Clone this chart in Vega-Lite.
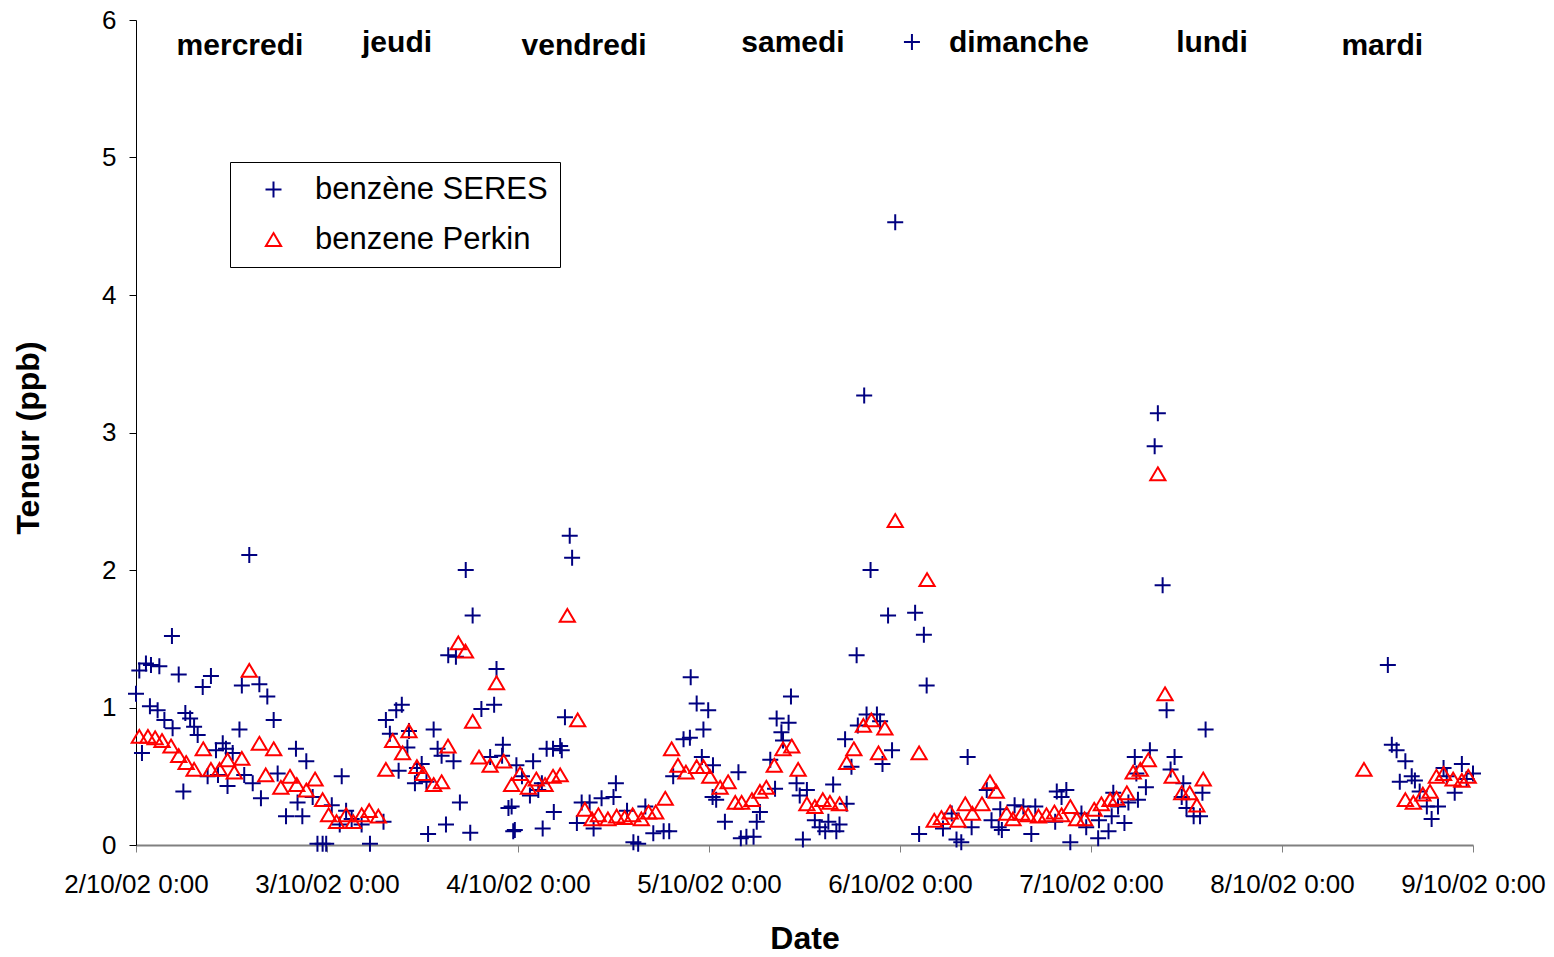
{
  "$schema": "https://vega.github.io/schema/vega-lite/v6.json",
  "width": 1337,
  "height": 825,
  "autosize": {"type": "none"},
  "padding": {"left": 136, "top": 20, "right": 81, "bottom": 112},
  "background": "white",
  "config": {"view": {"stroke": null}, "font": "Liberation Sans"},
  "layer": [
    {
      "data": {"values": [
        {"t":"2002-10-02T00:00:00Z","serie":"benzène SERES","v":1.10},
        {"t":"2002-10-02T00:25:00Z","serie":"benzène SERES","v":1.27},
        {"t":"2002-10-02T00:45:00Z","serie":"benzène SERES","v":0.67},
        {"t":"2002-10-02T01:15:00Z","serie":"benzène SERES","v":1.32},
        {"t":"2002-10-02T01:45:00Z","serie":"benzène SERES","v":1.01},
        {"t":"2002-10-02T01:53:00Z","serie":"benzène SERES","v":1.31},
        {"t":"2002-10-02T02:43:00Z","serie":"benzène SERES","v":0.98},
        {"t":"2002-10-02T02:56:00Z","serie":"benzène SERES","v":1.30},
        {"t":"2002-10-02T03:34:00Z","serie":"benzène SERES","v":0.91},
        {"t":"2002-10-02T04:31:00Z","serie":"benzène SERES","v":1.52},
        {"t":"2002-10-02T04:36:00Z","serie":"benzène SERES","v":0.85},
        {"t":"2002-10-02T05:22:00Z","serie":"benzène SERES","v":1.24},
        {"t":"2002-10-02T05:57:00Z","serie":"benzène SERES","v":0.39},
        {"t":"2002-10-02T06:12:00Z","serie":"benzène SERES","v":0.96},
        {"t":"2002-10-02T06:48:00Z","serie":"benzène SERES","v":0.92},
        {"t":"2002-10-02T07:18:00Z","serie":"benzène SERES","v":0.86},
        {"t":"2002-10-02T07:45:00Z","serie":"benzène SERES","v":0.80},
        {"t":"2002-10-02T08:23:00Z","serie":"benzène SERES","v":1.15},
        {"t":"2002-10-02T09:00:00Z","serie":"benzène SERES","v":0.50},
        {"t":"2002-10-02T09:25:00Z","serie":"benzène SERES","v":1.23},
        {"t":"2002-10-02T10:03:00Z","serie":"benzène SERES","v":0.69},
        {"t":"2002-10-02T10:18:00Z","serie":"benzène SERES","v":0.51},
        {"t":"2002-10-02T10:54:00Z","serie":"benzène SERES","v":0.74},
        {"t":"2002-10-02T11:18:00Z","serie":"benzène SERES","v":0.70},
        {"t":"2002-10-02T11:30:00Z","serie":"benzène SERES","v":0.43},
        {"t":"2002-10-02T12:09:00Z","serie":"benzène SERES","v":0.67},
        {"t":"2002-10-02T13:00:00Z","serie":"benzène SERES","v":0.84},
        {"t":"2002-10-02T13:18:00Z","serie":"benzène SERES","v":1.16},
        {"t":"2002-10-02T13:36:00Z","serie":"benzène SERES","v":0.51},
        {"t":"2002-10-02T14:14:00Z","serie":"benzène SERES","v":2.11},
        {"t":"2002-10-02T14:40:00Z","serie":"benzène SERES","v":0.45},
        {"t":"2002-10-02T15:30:00Z","serie":"benzène SERES","v":1.17},
        {"t":"2002-10-02T15:42:00Z","serie":"benzène SERES","v":0.34},
        {"t":"2002-10-02T16:30:00Z","serie":"benzène SERES","v":1.08},
        {"t":"2002-10-02T17:18:00Z","serie":"benzène SERES","v":0.91},
        {"t":"2002-10-02T17:48:00Z","serie":"benzène SERES","v":0.52},
        {"t":"2002-10-02T18:51:00Z","serie":"benzène SERES","v":0.21},
        {"t":"2002-10-02T20:06:00Z","serie":"benzène SERES","v":0.70},
        {"t":"2002-10-02T20:18:00Z","serie":"benzène SERES","v":0.31},
        {"t":"2002-10-02T20:54:00Z","serie":"benzène SERES","v":0.21},
        {"t":"2002-10-02T21:24:00Z","serie":"benzène SERES","v":0.61},
        {"t":"2002-10-02T22:12:00Z","serie":"benzène SERES","v":0.35},
        {"t":"2002-10-02T22:48:00Z","serie":"benzène SERES","v":0.01},
        {"t":"2002-10-02T23:27:00Z","serie":"benzène SERES","v":0.01},
        {"t":"2002-10-02T23:54:00Z","serie":"benzène SERES","v":0.01},
        {"t":"2002-10-03T00:36:00Z","serie":"benzène SERES","v":0.29},
        {"t":"2002-10-03T01:36:00Z","serie":"benzène SERES","v":0.15},
        {"t":"2002-10-03T01:51:00Z","serie":"benzène SERES","v":0.50},
        {"t":"2002-10-03T02:24:00Z","serie":"benzène SERES","v":0.25},
        {"t":"2002-10-03T03:06:00Z","serie":"benzène SERES","v":0.19},
        {"t":"2002-10-03T04:21:00Z","serie":"benzène SERES","v":0.15},
        {"t":"2002-10-03T05:24:00Z","serie":"benzène SERES","v":0.01},
        {"t":"2002-10-03T07:06:00Z","serie":"benzène SERES","v":0.17},
        {"t":"2002-10-03T07:24:00Z","serie":"benzène SERES","v":0.91},
        {"t":"2002-10-03T07:54:00Z","serie":"benzène SERES","v":0.81},
        {"t":"2002-10-03T08:42:00Z","serie":"benzène SERES","v":0.98},
        {"t":"2002-10-03T09:00:00Z","serie":"benzène SERES","v":0.54},
        {"t":"2002-10-03T09:24:00Z","serie":"benzène SERES","v":1.02},
        {"t":"2002-10-03T10:06:00Z","serie":"benzène SERES","v":0.71},
        {"t":"2002-10-03T10:18:00Z","serie":"benzène SERES","v":0.83},
        {"t":"2002-10-03T11:03:00Z","serie":"benzène SERES","v":0.45},
        {"t":"2002-10-03T11:18:00Z","serie":"benzène SERES","v":0.56},
        {"t":"2002-10-03T11:54:00Z","serie":"benzène SERES","v":0.59},
        {"t":"2002-10-03T12:30:00Z","serie":"benzène SERES","v":0.46},
        {"t":"2002-10-03T12:42:00Z","serie":"benzène SERES","v":0.08},
        {"t":"2002-10-03T13:24:00Z","serie":"benzène SERES","v":0.84},
        {"t":"2002-10-03T13:54:00Z","serie":"benzène SERES","v":0.70},
        {"t":"2002-10-03T14:24:00Z","serie":"benzène SERES","v":0.65},
        {"t":"2002-10-03T14:57:00Z","serie":"benzène SERES","v":0.15},
        {"t":"2002-10-03T15:14:00Z","serie":"benzène SERES","v":1.38},
        {"t":"2002-10-03T15:54:00Z","serie":"benzène SERES","v":0.61},
        {"t":"2002-10-03T16:12:00Z","serie":"benzène SERES","v":1.37},
        {"t":"2002-10-03T16:42:00Z","serie":"benzène SERES","v":0.31},
        {"t":"2002-10-03T17:26:00Z","serie":"benzène SERES","v":2.00},
        {"t":"2002-10-03T18:00:00Z","serie":"benzène SERES","v":0.09},
        {"t":"2002-10-03T18:18:00Z","serie":"benzène SERES","v":1.67},
        {"t":"2002-10-03T19:24:00Z","serie":"benzène SERES","v":0.99},
        {"t":"2002-10-03T20:30:00Z","serie":"benzène SERES","v":0.64},
        {"t":"2002-10-03T21:00:00Z","serie":"benzène SERES","v":1.02},
        {"t":"2002-10-03T21:18:00Z","serie":"benzène SERES","v":1.28},
        {"t":"2002-10-03T22:00:00Z","serie":"benzène SERES","v":0.65},
        {"t":"2002-10-03T22:06:00Z","serie":"benzène SERES","v":0.73},
        {"t":"2002-10-03T22:48:00Z","serie":"benzène SERES","v":0.27},
        {"t":"2002-10-03T23:12:00Z","serie":"benzène SERES","v":0.28},
        {"t":"2002-10-03T23:24:00Z","serie":"benzène SERES","v":0.10},
        {"t":"2002-10-03T23:36:00Z","serie":"benzène SERES","v":0.11},
        {"t":"2002-10-03T23:48:00Z","serie":"benzène SERES","v":0.58},
        {"t":"2002-10-04T00:30:00Z","serie":"benzène SERES","v":0.50},
        {"t":"2002-10-04T01:30:00Z","serie":"benzène SERES","v":0.36},
        {"t":"2002-10-04T01:54:00Z","serie":"benzène SERES","v":0.61},
        {"t":"2002-10-04T02:33:00Z","serie":"benzène SERES","v":0.40},
        {"t":"2002-10-04T03:00:00Z","serie":"benzène SERES","v":0.45},
        {"t":"2002-10-04T03:06:00Z","serie":"benzène SERES","v":0.12},
        {"t":"2002-10-04T03:36:00Z","serie":"benzène SERES","v":0.70},
        {"t":"2002-10-04T04:24:00Z","serie":"benzène SERES","v":0.70},
        {"t":"2002-10-04T04:30:00Z","serie":"benzène SERES","v":0.24},
        {"t":"2002-10-04T05:18:00Z","serie":"benzène SERES","v":0.72},
        {"t":"2002-10-04T05:30:00Z","serie":"benzène SERES","v":0.69},
        {"t":"2002-10-04T05:54:00Z","serie":"benzène SERES","v":0.93},
        {"t":"2002-10-04T06:30:00Z","serie":"benzène SERES","v":2.25},
        {"t":"2002-10-04T06:48:00Z","serie":"benzène SERES","v":2.09},
        {"t":"2002-10-04T07:24:00Z","serie":"benzène SERES","v":0.16},
        {"t":"2002-10-04T08:00:00Z","serie":"benzène SERES","v":0.31},
        {"t":"2002-10-04T09:00:00Z","serie":"benzène SERES","v":0.31},
        {"t":"2002-10-04T09:30:00Z","serie":"benzène SERES","v":0.12},
        {"t":"2002-10-04T10:30:00Z","serie":"benzène SERES","v":0.34},
        {"t":"2002-10-04T12:00:00Z","serie":"benzène SERES","v":0.35},
        {"t":"2002-10-04T12:18:00Z","serie":"benzène SERES","v":0.45},
        {"t":"2002-10-04T13:42:00Z","serie":"benzène SERES","v":0.25},
        {"t":"2002-10-04T14:30:00Z","serie":"benzène SERES","v":0.02},
        {"t":"2002-10-04T15:06:00Z","serie":"benzène SERES","v":0.01},
        {"t":"2002-10-04T16:00:00Z","serie":"benzène SERES","v":0.28},
        {"t":"2002-10-04T17:00:00Z","serie":"benzène SERES","v":0.085},
        {"t":"2002-10-04T18:18:00Z","serie":"benzène SERES","v":0.10},
        {"t":"2002-10-04T19:00:00Z","serie":"benzène SERES","v":0.10},
        {"t":"2002-10-04T19:30:00Z","serie":"benzène SERES","v":0.50},
        {"t":"2002-10-04T20:48:00Z","serie":"benzène SERES","v":0.77},
        {"t":"2002-10-04T21:36:00Z","serie":"benzène SERES","v":0.78},
        {"t":"2002-10-04T21:42:00Z","serie":"benzène SERES","v":1.22},
        {"t":"2002-10-04T22:27:00Z","serie":"benzène SERES","v":1.03},
        {"t":"2002-10-04T23:06:00Z","serie":"benzène SERES","v":0.64},
        {"t":"2002-10-04T23:18:00Z","serie":"benzène SERES","v":0.84},
        {"t":"2002-10-04T23:54:00Z","serie":"benzène SERES","v":0.98},
        {"t":"2002-10-05T00:27:00Z","serie":"benzène SERES","v":0.35},
        {"t":"2002-10-05T00:30:00Z","serie":"benzène SERES","v":0.58},
        {"t":"2002-10-05T00:54:00Z","serie":"benzène SERES","v":0.33},
        {"t":"2002-10-05T02:00:00Z","serie":"benzène SERES","v":0.17},
        {"t":"2002-10-05T03:42:00Z","serie":"benzène SERES","v":0.53},
        {"t":"2002-10-05T04:00:00Z","serie":"benzène SERES","v":0.05},
        {"t":"2002-10-05T04:42:00Z","serie":"benzène SERES","v":0.06},
        {"t":"2002-10-05T05:36:00Z","serie":"benzène SERES","v":0.06},
        {"t":"2002-10-05T06:00:00Z","serie":"benzène SERES","v":0.17},
        {"t":"2002-10-05T06:24:00Z","serie":"benzène SERES","v":0.24},
        {"t":"2002-10-05T07:42:00Z","serie":"benzène SERES","v":0.62},
        {"t":"2002-10-05T08:18:00Z","serie":"benzène SERES","v":0.41},
        {"t":"2002-10-05T08:30:00Z","serie":"benzène SERES","v":0.92},
        {"t":"2002-10-05T09:06:00Z","serie":"benzène SERES","v":0.82},
        {"t":"2002-10-05T09:18:00Z","serie":"benzène SERES","v":0.76},
        {"t":"2002-10-05T10:00:00Z","serie":"benzène SERES","v":0.89},
        {"t":"2002-10-05T10:18:00Z","serie":"benzène SERES","v":1.08},
        {"t":"2002-10-05T11:00:00Z","serie":"benzène SERES","v":0.45},
        {"t":"2002-10-05T11:24:00Z","serie":"benzène SERES","v":0.36},
        {"t":"2002-10-05T11:48:00Z","serie":"benzène SERES","v":0.04},
        {"t":"2002-10-05T12:18:00Z","serie":"benzène SERES","v":0.40},
        {"t":"2002-10-05T13:18:00Z","serie":"benzène SERES","v":0.18},
        {"t":"2002-10-05T13:54:00Z","serie":"benzène SERES","v":0.13},
        {"t":"2002-10-05T14:36:00Z","serie":"benzène SERES","v":0.10},
        {"t":"2002-10-05T15:00:00Z","serie":"benzène SERES","v":0.17},
        {"t":"2002-10-05T15:36:00Z","serie":"benzène SERES","v":0.44},
        {"t":"2002-10-05T16:00:00Z","serie":"benzène SERES","v":0.10},
        {"t":"2002-10-05T16:24:00Z","serie":"benzène SERES","v":0.15},
        {"t":"2002-10-05T17:06:00Z","serie":"benzène SERES","v":0.77},
        {"t":"2002-10-05T17:18:00Z","serie":"benzène SERES","v":0.30},
        {"t":"2002-10-05T17:54:00Z","serie":"benzène SERES","v":0.57},
        {"t":"2002-10-05T18:33:00Z","serie":"benzène SERES","v":1.38},
        {"t":"2002-10-05T18:42:00Z","serie":"benzène SERES","v":0.87},
        {"t":"2002-10-05T19:30:00Z","serie":"benzène SERES","v":3.27},
        {"t":"2002-10-05T19:48:00Z","serie":"benzène SERES","v":0.95},
        {"t":"2002-10-05T20:18:00Z","serie":"benzène SERES","v":2.00},
        {"t":"2002-10-05T21:06:00Z","serie":"benzène SERES","v":0.95},
        {"t":"2002-10-05T21:30:00Z","serie":"benzène SERES","v":0.90},
        {"t":"2002-10-05T21:48:00Z","serie":"benzène SERES","v":0.59},
        {"t":"2002-10-05T22:30:00Z","serie":"benzène SERES","v":1.67},
        {"t":"2002-10-05T23:00:00Z","serie":"benzène SERES","v":0.69},
        {"t":"2002-10-05T23:24:00Z","serie":"benzène SERES","v":4.53},
        {"t":"2002-10-06T01:30:00Z","serie":"benzène SERES","v":5.84},
        {"t":"2002-10-06T01:54:00Z","serie":"benzène SERES","v":1.69},
        {"t":"2002-10-06T02:24:00Z","serie":"benzène SERES","v":0.08},
        {"t":"2002-10-06T03:00:00Z","serie":"benzène SERES","v":1.53},
        {"t":"2002-10-06T03:21:00Z","serie":"benzène SERES","v":1.16},
        {"t":"2002-10-06T05:24:00Z","serie":"benzène SERES","v":0.12},
        {"t":"2002-10-06T06:30:00Z","serie":"benzène SERES","v":0.23},
        {"t":"2002-10-06T07:06:00Z","serie":"benzène SERES","v":0.04},
        {"t":"2002-10-06T07:42:00Z","serie":"benzène SERES","v":0.02},
        {"t":"2002-10-06T08:30:00Z","serie":"benzène SERES","v":0.64},
        {"t":"2002-10-06T09:00:00Z","serie":"benzène SERES","v":0.13},
        {"t":"2002-10-06T10:54:00Z","serie":"benzène SERES","v":0.40},
        {"t":"2002-10-06T11:30:00Z","serie":"benzène SERES","v":0.18},
        {"t":"2002-10-06T12:24:00Z","serie":"benzène SERES","v":0.13},
        {"t":"2002-10-06T12:36:00Z","serie":"benzène SERES","v":0.26},
        {"t":"2002-10-06T12:48:00Z","serie":"benzène SERES","v":0.11},
        {"t":"2002-10-06T14:24:00Z","serie":"benzène SERES","v":0.29},
        {"t":"2002-10-06T15:30:00Z","serie":"benzène SERES","v":0.28},
        {"t":"2002-10-06T16:30:00Z","serie":"benzène SERES","v":0.08},
        {"t":"2002-10-06T17:00:00Z","serie":"benzène SERES","v":0.28},
        {"t":"2002-10-06T19:30:00Z","serie":"benzène SERES","v":0.17},
        {"t":"2002-10-06T19:42:00Z","serie":"benzène SERES","v":0.39},
        {"t":"2002-10-06T20:18:00Z","serie":"benzène SERES","v":0.35},
        {"t":"2002-10-06T20:54:00Z","serie":"benzène SERES","v":0.40},
        {"t":"2002-10-06T21:24:00Z","serie":"benzène SERES","v":0.02},
        {"t":"2002-10-06T22:48:00Z","serie":"benzène SERES","v":0.23},
        {"t":"2002-10-06T23:24:00Z","serie":"benzène SERES","v":0.13},
        {"t":"2002-10-07T00:54:00Z","serie":"benzène SERES","v":0.05},
        {"t":"2002-10-07T01:00:00Z","serie":"benzène SERES","v":0.18},
        {"t":"2002-10-07T02:12:00Z","serie":"benzène SERES","v":0.10},
        {"t":"2002-10-07T02:36:00Z","serie":"benzène SERES","v":0.21},
        {"t":"2002-10-07T02:48:00Z","serie":"benzène SERES","v":0.38},
        {"t":"2002-10-07T03:24:00Z","serie":"benzène SERES","v":0.28},
        {"t":"2002-10-07T04:12:00Z","serie":"benzène SERES","v":0.16},
        {"t":"2002-10-07T04:42:00Z","serie":"benzène SERES","v":0.31},
        {"t":"2002-10-07T05:30:00Z","serie":"benzène SERES","v":0.64},
        {"t":"2002-10-07T05:42:00Z","serie":"benzène SERES","v":0.52},
        {"t":"2002-10-07T05:54:00Z","serie":"benzène SERES","v":0.33},
        {"t":"2002-10-07T06:54:00Z","serie":"benzène SERES","v":0.42},
        {"t":"2002-10-07T07:24:00Z","serie":"benzène SERES","v":0.69},
        {"t":"2002-10-07T08:00:00Z","serie":"benzène SERES","v":2.90},
        {"t":"2002-10-07T08:24:00Z","serie":"benzène SERES","v":3.14},
        {"t":"2002-10-07T09:00:00Z","serie":"benzène SERES","v":1.89},
        {"t":"2002-10-07T09:30:00Z","serie":"benzène SERES","v":0.98},
        {"t":"2002-10-07T10:00:00Z","serie":"benzène SERES","v":0.55},
        {"t":"2002-10-07T10:30:00Z","serie":"benzène SERES","v":0.64},
        {"t":"2002-10-07T11:24:00Z","serie":"benzène SERES","v":0.35},
        {"t":"2002-10-07T11:36:00Z","serie":"benzène SERES","v":0.45},
        {"t":"2002-10-07T12:00:00Z","serie":"benzène SERES","v":0.27},
        {"t":"2002-10-07T12:54:00Z","serie":"benzène SERES","v":0.21},
        {"t":"2002-10-07T13:42:00Z","serie":"benzène SERES","v":0.21},
        {"t":"2002-10-07T14:00:00Z","serie":"benzène SERES","v":0.38},
        {"t":"2002-10-07T14:24:00Z","serie":"benzène SERES","v":0.84},
        {"t":"2002-10-08T13:18:00Z","serie":"benzène SERES","v":1.31},
        {"t":"2002-10-08T13:48:00Z","serie":"benzène SERES","v":0.73},
        {"t":"2002-10-08T14:24:00Z","serie":"benzène SERES","v":0.69},
        {"t":"2002-10-08T14:48:00Z","serie":"benzène SERES","v":0.46},
        {"t":"2002-10-08T15:30:00Z","serie":"benzène SERES","v":0.61},
        {"t":"2002-10-08T16:18:00Z","serie":"benzène SERES","v":0.50},
        {"t":"2002-10-08T16:42:00Z","serie":"benzène SERES","v":0.47},
        {"t":"2002-10-08T17:18:00Z","serie":"benzène SERES","v":0.39},
        {"t":"2002-10-08T18:12:00Z","serie":"benzène SERES","v":0.28},
        {"t":"2002-10-08T18:48:00Z","serie":"benzène SERES","v":0.19},
        {"t":"2002-10-08T19:36:00Z","serie":"benzène SERES","v":0.28},
        {"t":"2002-10-08T20:18:00Z","serie":"benzène SERES","v":0.56},
        {"t":"2002-10-08T20:42:00Z","serie":"benzène SERES","v":0.50},
        {"t":"2002-10-08T21:42:00Z","serie":"benzène SERES","v":0.38},
        {"t":"2002-10-08T22:36:00Z","serie":"benzène SERES","v":0.59},
        {"t":"2002-10-08T23:12:00Z","serie":"benzène SERES","v":0.48},
        {"t":"2002-10-09T00:00:00Z","serie":"benzène SERES","v":0.52},

        {"t":"2002-10-02T00:25:00Z","serie":"benzene Perkin","v":0.79},
        {"t":"2002-10-02T01:30:00Z","serie":"benzene Perkin","v":0.79},
        {"t":"2002-10-02T02:24:00Z","serie":"benzene Perkin","v":0.78},
        {"t":"2002-10-02T03:16:00Z","serie":"benzene Perkin","v":0.76},
        {"t":"2002-10-02T04:24:00Z","serie":"benzene Perkin","v":0.72},
        {"t":"2002-10-02T05:22:00Z","serie":"benzene Perkin","v":0.65},
        {"t":"2002-10-02T06:18:00Z","serie":"benzene Perkin","v":0.60},
        {"t":"2002-10-02T07:18:00Z","serie":"benzene Perkin","v":0.55},
        {"t":"2002-10-02T08:27:00Z","serie":"benzene Perkin","v":0.70},
        {"t":"2002-10-02T09:25:00Z","serie":"benzene Perkin","v":0.55},
        {"t":"2002-10-02T10:30:00Z","serie":"benzene Perkin","v":0.55},
        {"t":"2002-10-02T11:30:00Z","serie":"benzene Perkin","v":0.62},
        {"t":"2002-10-02T12:21:00Z","serie":"benzene Perkin","v":0.53},
        {"t":"2002-10-02T13:18:00Z","serie":"benzene Perkin","v":0.63},
        {"t":"2002-10-02T14:14:00Z","serie":"benzene Perkin","v":1.27},
        {"t":"2002-10-02T15:30:00Z","serie":"benzene Perkin","v":0.74},
        {"t":"2002-10-02T16:18:00Z","serie":"benzene Perkin","v":0.51},
        {"t":"2002-10-02T17:18:00Z","serie":"benzene Perkin","v":0.70},
        {"t":"2002-10-02T18:12:00Z","serie":"benzene Perkin","v":0.42},
        {"t":"2002-10-02T19:21:00Z","serie":"benzene Perkin","v":0.50},
        {"t":"2002-10-02T20:12:00Z","serie":"benzene Perkin","v":0.44},
        {"t":"2002-10-02T21:24:00Z","serie":"benzene Perkin","v":0.40},
        {"t":"2002-10-02T22:30:00Z","serie":"benzene Perkin","v":0.48},
        {"t":"2002-10-02T23:27:00Z","serie":"benzene Perkin","v":0.33},
        {"t":"2002-10-03T00:12:00Z","serie":"benzene Perkin","v":0.22},
        {"t":"2002-10-03T01:12:00Z","serie":"benzene Perkin","v":0.17},
        {"t":"2002-10-03T02:24:00Z","serie":"benzene Perkin","v":0.22},
        {"t":"2002-10-03T03:18:00Z","serie":"benzene Perkin","v":0.17},
        {"t":"2002-10-03T04:21:00Z","serie":"benzene Perkin","v":0.22},
        {"t":"2002-10-03T05:18:00Z","serie":"benzene Perkin","v":0.25},
        {"t":"2002-10-03T06:27:00Z","serie":"benzene Perkin","v":0.21},
        {"t":"2002-10-03T07:24:00Z","serie":"benzene Perkin","v":0.55},
        {"t":"2002-10-03T08:15:00Z","serie":"benzene Perkin","v":0.76},
        {"t":"2002-10-03T09:30:00Z","serie":"benzene Perkin","v":0.67},
        {"t":"2002-10-03T10:18:00Z","serie":"benzene Perkin","v":0.83},
        {"t":"2002-10-03T11:18:00Z","serie":"benzene Perkin","v":0.57},
        {"t":"2002-10-03T12:06:00Z","serie":"benzene Perkin","v":0.52},
        {"t":"2002-10-03T13:24:00Z","serie":"benzene Perkin","v":0.44},
        {"t":"2002-10-03T14:24:00Z","serie":"benzene Perkin","v":0.46},
        {"t":"2002-10-03T15:12:00Z","serie":"benzene Perkin","v":0.72},
        {"t":"2002-10-03T16:30:00Z","serie":"benzene Perkin","v":1.47},
        {"t":"2002-10-03T17:24:00Z","serie":"benzene Perkin","v":1.41},
        {"t":"2002-10-03T18:18:00Z","serie":"benzene Perkin","v":0.90},
        {"t":"2002-10-03T19:06:00Z","serie":"benzene Perkin","v":0.64},
        {"t":"2002-10-03T20:30:00Z","serie":"benzene Perkin","v":0.58},
        {"t":"2002-10-03T21:18:00Z","serie":"benzene Perkin","v":1.18},
        {"t":"2002-10-03T22:12:00Z","serie":"benzene Perkin","v":0.61},
        {"t":"2002-10-03T23:12:00Z","serie":"benzene Perkin","v":0.44},
        {"t":"2002-10-04T00:15:00Z","serie":"benzene Perkin","v":0.52},
        {"t":"2002-10-04T01:18:00Z","serie":"benzene Perkin","v":0.42},
        {"t":"2002-10-04T02:18:00Z","serie":"benzene Perkin","v":0.48},
        {"t":"2002-10-04T03:24:00Z","serie":"benzene Perkin","v":0.44},
        {"t":"2002-10-04T04:24:00Z","serie":"benzene Perkin","v":0.50},
        {"t":"2002-10-04T05:18:00Z","serie":"benzene Perkin","v":0.51},
        {"t":"2002-10-04T06:12:00Z","serie":"benzene Perkin","v":1.67},
        {"t":"2002-10-04T07:30:00Z","serie":"benzene Perkin","v":0.91},
        {"t":"2002-10-04T08:24:00Z","serie":"benzene Perkin","v":0.26},
        {"t":"2002-10-04T09:18:00Z","serie":"benzene Perkin","v":0.19},
        {"t":"2002-10-04T10:06:00Z","serie":"benzene Perkin","v":0.22},
        {"t":"2002-10-04T11:18:00Z","serie":"benzene Perkin","v":0.19},
        {"t":"2002-10-04T12:24:00Z","serie":"benzene Perkin","v":0.21},
        {"t":"2002-10-04T13:24:00Z","serie":"benzene Perkin","v":0.20},
        {"t":"2002-10-04T14:24:00Z","serie":"benzene Perkin","v":0.22},
        {"t":"2002-10-04T15:30:00Z","serie":"benzene Perkin","v":0.19},
        {"t":"2002-10-04T16:24:00Z","serie":"benzene Perkin","v":0.24},
        {"t":"2002-10-04T17:18:00Z","serie":"benzene Perkin","v":0.24},
        {"t":"2002-10-04T18:30:00Z","serie":"benzene Perkin","v":0.34},
        {"t":"2002-10-04T19:18:00Z","serie":"benzene Perkin","v":0.70},
        {"t":"2002-10-04T20:06:00Z","serie":"benzene Perkin","v":0.58},
        {"t":"2002-10-04T21:06:00Z","serie":"benzene Perkin","v":0.53},
        {"t":"2002-10-04T22:27:00Z","serie":"benzene Perkin","v":0.57},
        {"t":"2002-10-04T23:18:00Z","serie":"benzene Perkin","v":0.57},
        {"t":"2002-10-05T00:06:00Z","serie":"benzene Perkin","v":0.50},
        {"t":"2002-10-05T01:24:00Z","serie":"benzene Perkin","v":0.42},
        {"t":"2002-10-05T02:24:00Z","serie":"benzene Perkin","v":0.46},
        {"t":"2002-10-05T03:18:00Z","serie":"benzene Perkin","v":0.31},
        {"t":"2002-10-05T04:06:00Z","serie":"benzene Perkin","v":0.31},
        {"t":"2002-10-05T05:24:00Z","serie":"benzene Perkin","v":0.33},
        {"t":"2002-10-05T06:24:00Z","serie":"benzene Perkin","v":0.39},
        {"t":"2002-10-05T07:12:00Z","serie":"benzene Perkin","v":0.42},
        {"t":"2002-10-05T08:12:00Z","serie":"benzene Perkin","v":0.58},
        {"t":"2002-10-05T09:18:00Z","serie":"benzene Perkin","v":0.70},
        {"t":"2002-10-05T10:24:00Z","serie":"benzene Perkin","v":0.72},
        {"t":"2002-10-05T11:12:00Z","serie":"benzene Perkin","v":0.55},
        {"t":"2002-10-05T12:18:00Z","serie":"benzene Perkin","v":0.30},
        {"t":"2002-10-05T13:18:00Z","serie":"benzene Perkin","v":0.28},
        {"t":"2002-10-05T14:18:00Z","serie":"benzene Perkin","v":0.33},
        {"t":"2002-10-05T15:12:00Z","serie":"benzene Perkin","v":0.31},
        {"t":"2002-10-05T16:24:00Z","serie":"benzene Perkin","v":0.30},
        {"t":"2002-10-05T17:18:00Z","serie":"benzene Perkin","v":0.60},
        {"t":"2002-10-05T18:12:00Z","serie":"benzene Perkin","v":0.70},
        {"t":"2002-10-05T19:24:00Z","serie":"benzene Perkin","v":0.87},
        {"t":"2002-10-05T20:24:00Z","serie":"benzene Perkin","v":0.91},
        {"t":"2002-10-05T21:18:00Z","serie":"benzene Perkin","v":0.67},
        {"t":"2002-10-05T22:06:00Z","serie":"benzene Perkin","v":0.85},
        {"t":"2002-10-05T23:24:00Z","serie":"benzene Perkin","v":2.36},
        {"t":"2002-10-06T02:24:00Z","serie":"benzene Perkin","v":0.67},
        {"t":"2002-10-06T03:24:00Z","serie":"benzene Perkin","v":1.93},
        {"t":"2002-10-06T04:18:00Z","serie":"benzene Perkin","v":0.18},
        {"t":"2002-10-06T05:12:00Z","serie":"benzene Perkin","v":0.20},
        {"t":"2002-10-06T06:18:00Z","serie":"benzene Perkin","v":0.24},
        {"t":"2002-10-06T07:18:00Z","serie":"benzene Perkin","v":0.18},
        {"t":"2002-10-06T08:12:00Z","serie":"benzene Perkin","v":0.30},
        {"t":"2002-10-06T09:06:00Z","serie":"benzene Perkin","v":0.23},
        {"t":"2002-10-06T10:18:00Z","serie":"benzene Perkin","v":0.30},
        {"t":"2002-10-06T11:18:00Z","serie":"benzene Perkin","v":0.46},
        {"t":"2002-10-06T12:06:00Z","serie":"benzene Perkin","v":0.39},
        {"t":"2002-10-06T13:24:00Z","serie":"benzene Perkin","v":0.23},
        {"t":"2002-10-06T14:12:00Z","serie":"benzene Perkin","v":0.19},
        {"t":"2002-10-06T15:18:00Z","serie":"benzene Perkin","v":0.23},
        {"t":"2002-10-06T16:06:00Z","serie":"benzene Perkin","v":0.22},
        {"t":"2002-10-06T17:24:00Z","serie":"benzene Perkin","v":0.21},
        {"t":"2002-10-06T18:24:00Z","serie":"benzene Perkin","v":0.22},
        {"t":"2002-10-06T19:24:00Z","serie":"benzene Perkin","v":0.24},
        {"t":"2002-10-06T20:18:00Z","serie":"benzene Perkin","v":0.22},
        {"t":"2002-10-06T21:24:00Z","serie":"benzene Perkin","v":0.28},
        {"t":"2002-10-06T22:12:00Z","serie":"benzene Perkin","v":0.19},
        {"t":"2002-10-06T23:12:00Z","serie":"benzene Perkin","v":0.19},
        {"t":"2002-10-07T00:24:00Z","serie":"benzene Perkin","v":0.26},
        {"t":"2002-10-07T01:18:00Z","serie":"benzene Perkin","v":0.30},
        {"t":"2002-10-07T02:24:00Z","serie":"benzene Perkin","v":0.33},
        {"t":"2002-10-07T03:12:00Z","serie":"benzene Perkin","v":0.34},
        {"t":"2002-10-07T04:30:00Z","serie":"benzene Perkin","v":0.38},
        {"t":"2002-10-07T05:18:00Z","serie":"benzene Perkin","v":0.53},
        {"t":"2002-10-07T06:12:00Z","serie":"benzene Perkin","v":0.55},
        {"t":"2002-10-07T07:12:00Z","serie":"benzene Perkin","v":0.62},
        {"t":"2002-10-07T08:24:00Z","serie":"benzene Perkin","v":2.70},
        {"t":"2002-10-07T09:18:00Z","serie":"benzene Perkin","v":1.10},
        {"t":"2002-10-07T10:12:00Z","serie":"benzene Perkin","v":0.50},
        {"t":"2002-10-07T11:24:00Z","serie":"benzene Perkin","v":0.38},
        {"t":"2002-10-07T12:24:00Z","serie":"benzene Perkin","v":0.38},
        {"t":"2002-10-07T13:18:00Z","serie":"benzene Perkin","v":0.29},
        {"t":"2002-10-07T14:06:00Z","serie":"benzene Perkin","v":0.48},
        {"t":"2002-10-08T10:18:00Z","serie":"benzene Perkin","v":0.55},
        {"t":"2002-10-08T15:30:00Z","serie":"benzene Perkin","v":0.33},
        {"t":"2002-10-08T16:30:00Z","serie":"benzene Perkin","v":0.31},
        {"t":"2002-10-08T17:42:00Z","serie":"benzene Perkin","v":0.37},
        {"t":"2002-10-08T18:36:00Z","serie":"benzene Perkin","v":0.39},
        {"t":"2002-10-08T19:24:00Z","serie":"benzene Perkin","v":0.50},
        {"t":"2002-10-08T20:18:00Z","serie":"benzene Perkin","v":0.52},
        {"t":"2002-10-08T21:30:00Z","serie":"benzene Perkin","v":0.48},
        {"t":"2002-10-08T22:36:00Z","serie":"benzene Perkin","v":0.47},
        {"t":"2002-10-08T23:24:00Z","serie":"benzene Perkin","v":0.50}
      ]},
      "mark": {"type": "point", "filled": false, "strokeWidth": 2, "size": 256, "opacity": 1},
      "encoding": {
        "x": {
          "field": "t", "type": "temporal", "title": "Date",
          "scale": {"type": "utc", "nice": false, "domain": [
            {"year": 2002, "month": 10, "date": 2, "utc": true},
            {"year": 2002, "month": 10, "date": 9, "utc": true}]},
          "axis": {
            "values": [
              {"year": 2002, "month": 10, "date": 2, "utc": true},
              {"year": 2002, "month": 10, "date": 3, "utc": true},
              {"year": 2002, "month": 10, "date": 4, "utc": true},
              {"year": 2002, "month": 10, "date": 5, "utc": true},
              {"year": 2002, "month": 10, "date": 6, "utc": true},
              {"year": 2002, "month": 10, "date": 7, "utc": true},
              {"year": 2002, "month": 10, "date": 8, "utc": true},
              {"year": 2002, "month": 10, "date": 9, "utc": true}],
            "labelExpr": "utcFormat(datum.value, '%-d/%m/%y %-H:%M')",
            "grid": false, "labelFlush": false, "labelOverlap": false,
            "labelFont": "Liberation Sans", "labelFontSize": 26, "labelColor": "black",
            "labelPadding": 19, "tickSize": 7, "tickColor": "#808080", "tickWidth": 1,
            "domainColor": "#808080", "domainWidth": 2,
            "titleFont": "Liberation Sans", "titleFontSize": 32, "titleFontWeight": "bold", "titleColor": "black",
            "titleX": 668.5, "titleY": 93, "titleAlign": "center", "titleBaseline": "middle"
          }
        },
        "y": {
          "field": "v", "type": "quantitative", "title": "Teneur (ppb)",
          "scale": {"domain": [0, 6], "nice": false, "zero": true},
          "axis": {
            "values": [0, 1, 2, 3, 4, 5, 6], "format": "d",
            "grid": false, "labelFlush": false,
            "labelFont": "Liberation Sans", "labelFontSize": 26, "labelColor": "black",
            "labelPadding": 13, "tickSize": 7, "tickColor": "black", "domainColor": "black",
            "titleFont": "Liberation Sans", "titleFontSize": 32, "titleFontWeight": "bold", "titleColor": "black",
            "titleX": -108, "titleY": 417.5, "titleAngle": -90, "titleAlign": "center", "titleBaseline": "middle"
          }
        },
        "shape": {
          "field": "serie", "type": "nominal",
          "scale": {"domain": ["benzène SERES", "benzene Perkin"], "range": ["M-1,0H1M0,-1V1", "M0,-0.8L0.95,0.8L-0.95,0.8Z"]},
          "legend": {
            "title": null, "orient": "none", "legendX": 94, "legendY": 142,
            "strokeColor": "black", "fillColor": "white", "padding": 12,
            "labelFont": "Liberation Sans", "labelFontSize": 31, "labelColor": "black", "labelLimit": 500,
            "symbolSize": 256, "symbolStrokeWidth": 2, "symbolOffset": 16, "labelOffset": 26, "rowPadding": 18
          }
        },
        "stroke": {
          "field": "serie", "type": "nominal",
          "scale": {"domain": ["benzène SERES", "benzene Perkin"], "range": ["#000080", "#ff0000"]},
          "legend": {
            "title": null, "orient": "none", "legendX": 94, "legendY": 142,
            "strokeColor": "black", "fillColor": "white", "padding": 12,
            "labelFont": "Liberation Sans", "labelFontSize": 31, "labelColor": "black", "labelLimit": 500,
            "symbolSize": 256, "symbolStrokeWidth": 2, "symbolOffset": 16, "labelOffset": 26, "rowPadding": 18
          }
        }
      }
    },
    {
      "data": {"values": [
        {"t": "2002-10-02T13:04:00Z", "v": 5.81, "jour": "mercredi"},
        {"t": "2002-10-03T08:48:00Z", "v": 5.83, "jour": "jeudi"},
        {"t": "2002-10-04T08:18:00Z", "v": 5.81, "jour": "vendredi"},
        {"t": "2002-10-05T10:33:00Z", "v": 5.83, "jour": "samedi"},
        {"t": "2002-10-06T14:57:00Z", "v": 5.83, "jour": "dimanche"},
        {"t": "2002-10-07T15:12:00Z", "v": 5.83, "jour": "lundi"},
        {"t": "2002-10-08T12:36:00Z", "v": 5.81, "jour": "mardi"}
      ]},
      "mark": {"type": "text", "font": "Liberation Sans", "fontSize": 30, "fontWeight": "bold", "align": "center", "baseline": "middle", "color": "black"},
      "encoding": {
        "x": {"field": "t", "type": "temporal", "title": "Date"},
        "y": {"field": "v", "type": "quantitative", "title": "Teneur (ppb)"},
        "text": {"field": "jour"}
      }
    }
  ]
}
